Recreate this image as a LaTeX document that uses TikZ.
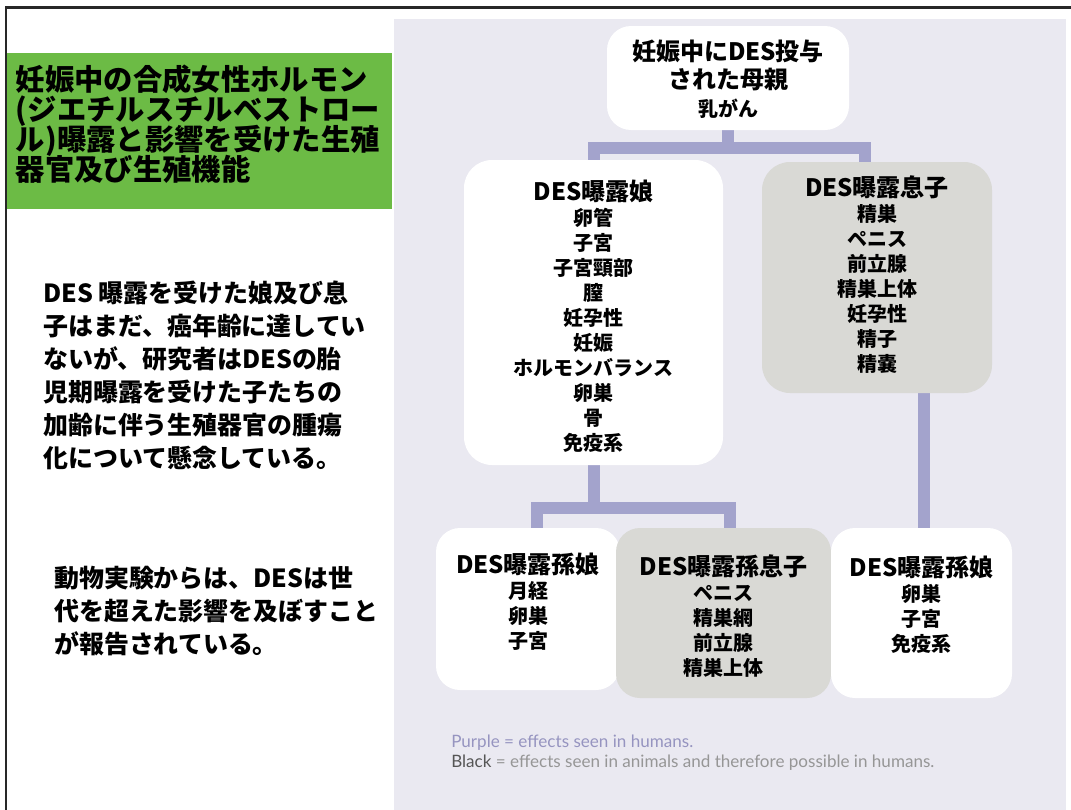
\documentclass[tikz,border=0pt]{standalone}
\usepackage{fontspec}
\setmainfont{Noto Sans CJK JP}
\newfontfamily\legendfont{Lato}
\usetikzlibrary{calc}
\definecolor{panelbg}{RGB}{234,233,241}
\definecolor{titlegreen}{RGB}{108,187,69}
\definecolor{connc}{RGB}{163,163,204}
\definecolor{graybox}{RGB}{217,217,213}
\definecolor{framec}{RGB}{40,40,40}
\definecolor{legpurple}{RGB}{150,148,192}
\definecolor{leggray}{RGB}{150,150,150}
\definecolor{legdark}{RGB}{85,85,85}
\pgfdeclarelayer{bg}
\pgfsetlayers{bg,main}
\newcommand\boxttl{\fontsize{18pt}{18.75pt}\selectfont}
% box content: width, height, top gap, text
\newcommand\boxtext[4]{\parbox[c][#2][t]{#1}{\centering\bfseries
  \fontsize{15pt}{18.75pt}\selectfont\lineskiplimit=-100pt\vspace*{#3}#4\par}}
\begin{document}
\begin{tikzpicture}[x=0.75pt,y=-0.75pt,
  boxbase/.style={rounded corners=18pt, inner sep=0pt},
  whitebox/.style={boxbase, fill=white},
  greybox/.style={boxbase, fill=graybox},
  conn/.style={draw=connc, line width=9pt, line join=miter, line cap=butt},
  para/.style={anchor=north west, inner sep=0pt, align=left,
    font=\bfseries\fontsize{18.7pt}{24.75pt}\selectfont}
]
\lineskiplimit=-100pt
\useasboundingbox (0,0) rectangle (1071,810);

% title box
\node[anchor=north west, fill=titlegreen, inner sep=0pt] (title) at (7,53)
  {\parbox[c][117pt][t]{288.75pt}{\raggedright\bfseries
   \fontsize{22pt}{22.5pt}\selectfont\lineskiplimit=-100pt\leftskip=6.5pt
   \vspace*{9pt}妊娠中の合成女性ホルモン\\(ジエチルスチルベストロー\\ル)曝露と影響を受けた生殖\\器官及び生殖機能\par}};

% left paragraphs
\node[para] (p1) at (43,280.5)
  {DES 曝露を受けた娘及び息\\子はまだ、癌年齢に達してい\\ないが、研究者はDESの胎\\児期曝露を受けた子たちの\\加齢に伴う生殖器官の腫瘍\\化について懸念している。};
\node[para] (p2) at (54,565.5)
  {動物実験からは、DESは世\\代を超えた影響を及ぼすこと\\が報告されている。};

% boxes
\node[whitebox] (top) at (728,78)
  {\boxtext{181.5pt}{78pt}{10.5pt}{\fontsize{18pt}{21pt}\selectfont 妊娠中にDES投与\\された母親\\{\fontsize{15pt}{21pt}\selectfont 乳がん}}};
\node[whitebox, rounded corners=21pt] (musume) at (593.5,312.5)
  {\boxtext{194.25pt}{228.75pt}{15pt}{{\boxttl DES曝露娘}\\卵管\\子宮\\子宮頸部\\膣\\妊孕性\\妊娠\\ホルモンバランス\\卵巣\\骨\\免疫系}};
\node[greybox, rounded corners=21pt] (musuko) at (877,277.5)
  {\boxtext{172.5pt}{173.25pt}{10.5pt}{{\boxttl DES曝露息子}\\精巣\\ペニス\\前立腺\\精巣上体\\妊孕性\\精子\\精嚢}};
\node[whitebox] (gd1) at (528,609)
  {\boxtext{138pt}{121.5pt}{18.75pt}{{\boxttl DES曝露孫娘}\\月経\\卵巣\\子宮}};
\node[greybox] (gs) at (723.5,613)
  {\boxtext{161.25pt}{127.5pt}{20.25pt}{{\boxttl DES曝露孫息子}\\ペニス\\精巣網\\前立腺\\精巣上体}};
\node[whitebox] (gd2) at (921.5,613)
  {\boxtext{135.75pt}{127.5pt}{21pt}{{\boxttl DES曝露孫娘}\\卵巣\\子宮\\免疫系}};

% legend
\node[anchor=north west, inner sep=0pt, align=left,
  font=\legendfont\fontsize{12.8pt}{15pt}\selectfont] (legend) at (451,735)
  {\textcolor{legpurple}{Purple = effects seen in humans.}\\
   \textcolor{legdark}{Black}\ \textcolor{leggray}{= effects seen in animals and therefore possible in humans.}};

\begin{pgfonlayer}{bg}
\fill[white] (0,0) rectangle (1071,810);
\fill[panelbg] (394,19) rectangle (1066,810);
\coordinate (bar1) at ($(top.south)+(0,17.5)$);
\draw[conn] (top.south) -- (bar1);
\draw[conn] (musume.north) |- (bar1) -| ($(musuko.north)+(-12,0)$);
\coordinate (bar2) at ($(musume.south)+(0,42.5)$);
\draw[conn] (musume.south) -- (bar2);
\draw[conn] ($(gd1.north)+(9,0)$) |- (bar2) -| ($(gs.north)+(6.5,0)$);
\coordinate (r1) at ($(gd2.north)+(2.5,0)$);
\draw[conn] (musuko.south -| r1) -- (r1);
\end{pgfonlayer}

% frame
\draw[framec, line width=1.6pt, line cap=butt] (6,810) -- (6,7.5) -- (1071,7.5);
\end{tikzpicture}
\end{document}
